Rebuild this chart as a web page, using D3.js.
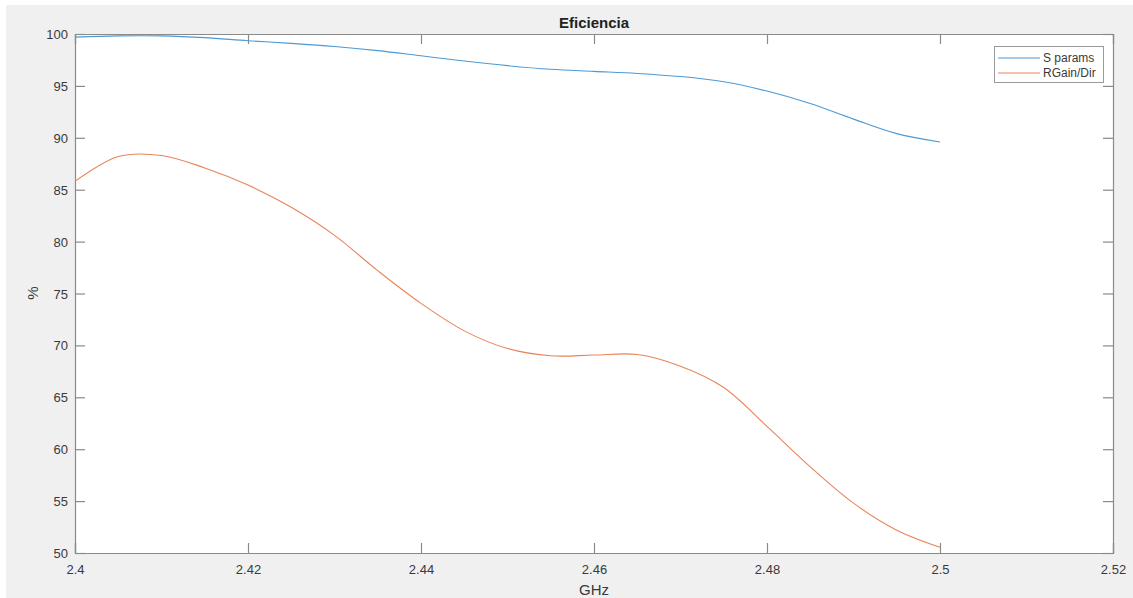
<!DOCTYPE html>
<html>
<head>
<meta charset="utf-8">
<script src="https://cdn.jsdelivr.net/npm/d3@7"></script>
<style>
  html, body { margin: 0; padding: 0; background: #ffffff; }
  svg { display: block; font-family: "Liberation Sans", Arial, Helvetica, sans-serif; }
</style>
</head>
<body>
<svg id="chart" width="1133" height="598"></svg>
<script>
const title = "Eficiencia";
const xLabel = "GHz";
const yLabel = "%";
const seriesNames = ["S params", "RGain/Dir"];
const seriesColors = ["#4b9ad6", "#e8845a"];

const freq = [2.400, 2.405, 2.410, 2.415, 2.420, 2.425, 2.430, 2.435, 2.440, 2.445,
              2.450, 2.455, 2.460, 2.465, 2.470, 2.475, 2.480, 2.485, 2.490, 2.495, 2.500];
const sParams = [99.7, 99.82, 99.82, 99.65, 99.35, 99.1, 98.8, 98.4, 97.9, 97.4,
                 96.95, 96.6, 96.4, 96.2, 95.9, 95.4, 94.5, 93.3, 91.8, 90.4, 89.6];
const rGainDir = [85.8, 88.2, 88.3, 87.1, 85.45, 83.3, 80.6, 77.2, 74.05, 71.4,
                  69.7, 69.0, 69.07, 69.12, 68.0, 65.95, 62.2, 58.3, 54.8, 52.2, 50.55];

const xTicks = [2.4, 2.42, 2.44, 2.46, 2.48, 2.5, 2.52];
const xTickLabels = ["2.4", "2.42", "2.44", "2.46", "2.48", "2.5", "2.52"];
const yTicks = [50, 55, 60, 65, 70, 75, 80, 85, 90, 95, 100];

(function () {
const svg = d3.select("#chart");
const W = 1133, H = 598;
const pLeft = 75, pRight = 1113, pTop = 34, pBottom = 553;
const axisColor = "#8a8a8a";
const textColor = "#3a3a3a";

// figure background
svg.append("rect").attr("x", 6).attr("y", 5).attr("width", W - 6).attr("height", H - 5).attr("fill", "#f0f0f0");

const x = d3.scaleLinear().domain([2.4, 2.52]).range([pLeft, pRight]);
const y = d3.scaleLinear().domain([50, 100]).range([pBottom, pTop]);

// plot area
svg.append("rect").attr("x", pLeft).attr("y", pTop).attr("width", pRight - pLeft).attr("height", pBottom - pTop).attr("fill", "#ffffff");

// axes with inward ticks
const tickLen = 10;
const gx = svg.append("g").attr("transform", `translate(0,${pBottom})`)
  .call(d3.axisBottom(x).tickValues(xTicks).tickFormat((d, i) => xTickLabels[i]).tickSize(-tickLen).tickPadding(12));
const gxTop = svg.append("g").attr("transform", `translate(0,${pTop})`)
  .call(d3.axisTop(x).tickValues(xTicks).tickFormat("").tickSize(-tickLen));
const gy = svg.append("g").attr("transform", `translate(${pLeft},0)`)
  .call(d3.axisLeft(y).tickValues(yTicks).tickFormat(d3.format("d")).tickSize(-tickLen).tickPadding(7));
const gyR = svg.append("g").attr("transform", `translate(${pRight},0)`)
  .call(d3.axisRight(y).tickValues(yTicks).tickFormat("").tickSize(-tickLen));

[gx, gxTop, gy, gyR].forEach(g => {
  g.select(".domain").attr("stroke", axisColor).attr("stroke-width", 1.2);
  g.selectAll(".tick line").attr("stroke", axisColor).attr("stroke-width", 1.2);
  g.selectAll(".tick text").attr("fill", textColor).style("font-size", "13px")
    .style("font-family", '"Liberation Sans", Arial, sans-serif');
});
gy.selectAll(".tick text").attr("dy", "0.35em");

// lines
const line = d3.line().x(d => x(d[0])).y(d => y(d[1])).curve(d3.curveCatmullRom.alpha(0.5));
const series = [sParams, rGainDir];
series.forEach((vals, i) => {
  svg.append("path")
    .datum(freq.map((f, j) => [f, vals[j]]))
    .attr("fill", "none")
    .attr("stroke", seriesColors[i])
    .attr("stroke-width", 1.1)
    .attr("d", line);
});

// title and labels
svg.append("text").attr("x", (pLeft + pRight) / 2).attr("y", 28).attr("text-anchor", "middle")
  .attr("fill", "#222").style("font-size", "15px").style("font-weight", "bold").text(title);
svg.append("text").attr("x", (pLeft + pRight) / 2).attr("y", 595).attr("text-anchor", "middle")
  .attr("fill", textColor).style("font-size", "15px").text(xLabel);
svg.append("text").attr("transform", "translate(38,293) rotate(-90)").attr("text-anchor", "middle")
  .attr("fill", textColor).style("font-size", "15px").text(yLabel);

// legend
const lg = svg.append("g");
lg.append("rect").attr("x", 994.5).attr("y", 46.5).attr("width", 109).attr("height", 36)
  .attr("fill", "#ffffff").attr("stroke", "#9a9a9a").attr("stroke-width", 1);
seriesNames.forEach((name, i) => {
  const yy = 58 + i * 15;
  lg.append("line").attr("x1", 998).attr("x2", 1040).attr("y1", yy).attr("y2", yy)
    .attr("stroke", seriesColors[i]).attr("stroke-width", 1.1);
  lg.append("text").attr("x", 1043).attr("y", yy).attr("dy", "0.35em")
    .attr("fill", textColor).style("font-size", "12px").text(name);
});
})();
</script>
</body>
</html>
